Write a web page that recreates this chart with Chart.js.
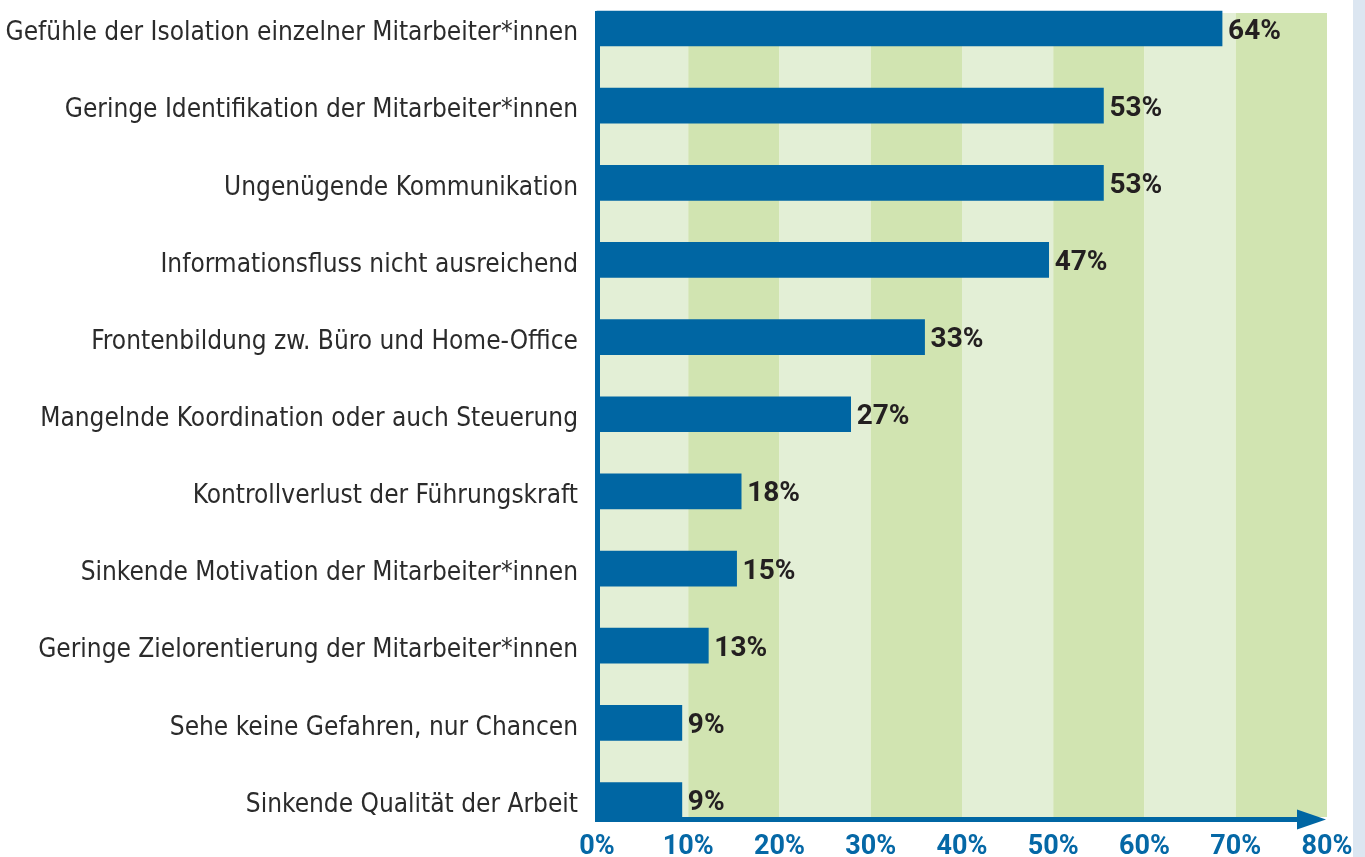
<!DOCTYPE html>
<html>
<head>
<meta charset="utf-8">
<script src="https://cdn.jsdelivr.net/npm/chart.js@4.4.1/dist/chart.umd.min.js"></script>
<style>
  html, body { margin: 0; padding: 0; background: #ffffff; }
  #wrap { position: relative; width: 1365px; height: 857px; }
</style>
</head>
<body>
<div id="wrap"><canvas id="c" width="1365" height="857"></canvas></div>
<script>
// ---- data ----
const categories = [
  'Gefühle der Isolation einzelner Mitarbeiter*innen',
  'Geringe Identifikation der Mitarbeiter*innen',
  'Ungenügende Kommunikation',
  'Informationsfluss nicht ausreichend',
  'Frontenbildung zw. Büro und Home-Office',
  'Mangelnde Koordination oder auch Steuerung',
  'Kontrollverlust der Führungskraft',
  'Sinkende Motivation der Mitarbeiter*innen',
  'Geringe Zielorentierung der Mitarbeiter*innen',
  'Sehe keine Gefahren, nur Chancen',
  'Sinkende Qualität der Arbeit'
];
// bar lengths as drawn in the picture (percent on the axis)
const barValues = [68.5, 55.5, 55.5, 49.5, 35.9, 27.8, 15.8, 15.3, 12.2, 9.3, 9.3];
// value labels printed next to the bars
const valueLabels = ['64%', '53%', '53%', '47%', '33%', '27%', '18%', '15%', '13%', '9%', '9%'];
const xTicks = [0, 10, 20, 30, 40, 50, 60, 70, 80];

const BLUE = '#0066a3';
const TICK_BLUE = '#0568a6';
const GREEN_LIGHT = '#e3efd6';
const GREEN_DARK = '#d1e4b1';
const TEXT = '#231f20';
const LABEL_FONT = "'Liberation Sans Narrow', 'DejaVu Sans Condensed', 'Roboto Condensed', Roboto, sans-serif";

const decor = {
  id: 'decor',
  beforeDraw(chart) {
    const ctx = chart.ctx;
    ctx.save();
    ctx.fillStyle = '#dce6f1';
    ctx.fillRect(1353, 0, 12, chart.height);
    ctx.restore();
  },
  beforeDatasetsDraw(chart) {
    const ctx = chart.ctx, x = chart.scales.x, a = chart.chartArea;
    const top = a.top - 15.5, bottom = a.bottom + 17;
    ctx.save();
    for (let i = 0; i < xTicks.length - 1; i++) {
      const x0 = x.getPixelForValue(xTicks[i]);
      const x1 = x.getPixelForValue(xTicks[i + 1]);
      ctx.fillStyle = (i % 2 === 0) ? GREEN_LIGHT : GREEN_DARK;
      ctx.fillRect(x0, top, x1 - x0, bottom - top);
    }
    ctx.restore();
  },
  afterDatasetsDraw(chart) {
    const ctx = chart.ctx, x = chart.scales.x, a = chart.chartArea;
    const x0 = x.getPixelForValue(0);
    const xEnd = x.getPixelForValue(80);
    const axisY = a.bottom + 19.5;
    ctx.save();
    ctx.fillStyle = BLUE;
    // vertical axis
    ctx.fillRect(x0 - 2, a.top - 17.5, 5, axisY + 2.5 - (a.top - 17.5));
    // horizontal axis
    ctx.fillRect(x0 - 2, axisY - 2.5, xEnd - 29 - (x0 - 2), 5);
    // arrow head
    ctx.beginPath();
    ctx.moveTo(xEnd - 30, axisY - 10);
    ctx.lineTo(xEnd - 1, axisY);
    ctx.lineTo(xEnd - 30, axisY + 10);
    ctx.closePath();
    ctx.fill();
    // value labels
    const meta = chart.getDatasetMeta(0);
    ctx.fillStyle = TEXT;
    ctx.font = "bold 28px Roboto, 'Open Sans', sans-serif";
    ctx.textAlign = 'left';
    ctx.textBaseline = 'middle';
    meta.data.forEach((bar, i) => {
      ctx.fillText(valueLabels[i], bar.x + 6, bar.y + 3);
    });
    ctx.restore();
  }
};

new Chart(document.getElementById('c'), {
  type: 'bar',
  data: {
    labels: categories,
    datasets: [{
      data: barValues,
      backgroundColor: BLUE,
      borderWidth: 0,
      barThickness: 35,
      clip: false
    }]
  },
  options: {
    indexAxis: 'y',
    responsive: false,
    animation: false,
    devicePixelRatio: 1,
    layout: { padding: { top: 28.5, right: 38, bottom: 0, left: 0 } },
    plugins: { legend: { display: false }, tooltip: { enabled: false } },
    scales: {
      x: {
        min: 0, max: 80,
        afterBuildTicks(scale) { scale.ticks = xTicks.map(v => ({ value: v })); },
        afterFit(scale) {
          scale.height = 57;
          scale.paddingLeft = 0; scale.paddingRight = 0;
        },
        grid: { display: false, drawTicks: false },
        border: { display: false },
        ticks: {
          padding: 31,
          color: TICK_BLUE,
          font: { family: "Roboto, 'Open Sans', sans-serif", size: 27, weight: 'bold' },
          callback: v => v + '%'
        }
      },
      y: {
        offset: false,
        afterFit(scale) {
          scale.width = 597;
          scale.paddingTop = 0; scale.paddingBottom = 0;
        },
        grid: { display: false, drawTicks: false },
        border: { display: false },
        ticks: {
          padding: 19,
          labelOffset: 5,
          color: '#2b2b2b',
          font: { family: LABEL_FONT, size: 26, weight: 'normal' }
        }
      }
    }
  },
  plugins: [decor]
});
</script>
</body>
</html>
